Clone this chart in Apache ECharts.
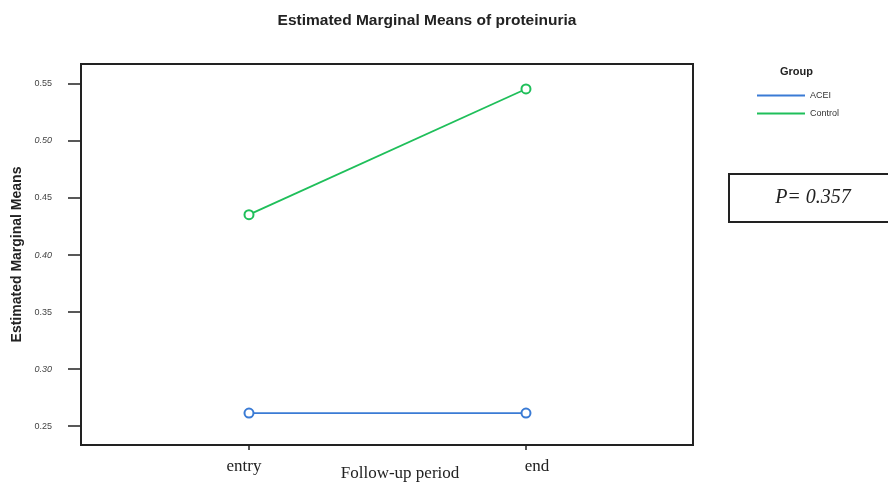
<!DOCTYPE html>
<html>
<head>
<meta charset="utf-8">
<script src="https://cdn.jsdelivr.net/npm/echarts@6/dist/echarts.min.js"></script>
<style>
  html, body { margin: 0; padding: 0; background: #fff; }
  #chart { width: 888px; height: 488px; }
</style>
</head>
<body>
<div id="chart"></div>
<script>
// Follow-up time points and estimated marginal means per group
const periods = ['entry', 'end'];
const aceiMeans = [0.2614, 0.2614];
const controlMeans = [0.4354, 0.5456];
const yTicks = [0.25, 0.30, 0.35, 0.40, 0.45, 0.50, 0.55];
const pText = 'P= 0.357';

const toPairs = vals => vals.map((v, i) => [i, v]);

const chart = echarts.init(document.getElementById('chart'));
chart.setOption({
  backgroundColor: '#ffffff',
  animation: false,
  title: {
    text: 'Estimated Marginal Means of proteinuria',
    left: 422, top: 8, textAlign: 'center',
    textStyle: { fontFamily: 'Arial, Liberation Sans, sans-serif', fontSize: 15.5, fontWeight: 'bold', color: '#222' }
  },
  grid: {
    left: 81, top: 64, right: 195, bottom: 43,
    outerBoundsMode: 'none', containLabel: false,
    show: true, borderColor: '#222', borderWidth: 2, backgroundColor: 'transparent'
  },
  legend: {
    orient: 'vertical', left: 752, top: 86,
    itemWidth: 48, itemHeight: 2, itemGap: 9,
    icon: 'rect',
    textStyle: { fontFamily: 'Arial, Liberation Sans, sans-serif', fontSize: 9, color: '#333' },
    data: ['ACEI', 'Control']
  },
  xAxis: {
    type: 'value',
    min: -0.6065, max: 1.603,
    name: 'Follow-up period',
    nameLocation: 'middle', nameGap: 20, nameMoveOverlap: false,
    nameTextStyle: { fontFamily: 'Liberation Serif, Times New Roman, serif', fontSize: 17, color: '#222', padding: [0, 0, 0, 26] },
    axisLine: { show: true, onZero: false, lineStyle: { color: '#222', width: 2 } },
    axisTick: { show: true, customValues: [0, 1], length: 5, lineStyle: { color: '#222', width: 1.5 } },
    axisLabel: {
      customValues: [0, 1], margin: 13,
      fontFamily: 'Liberation Serif, Times New Roman, serif', fontSize: 17, color: '#222',
      formatter: v => (v === 0 ? '{a|' + periods[0] + '}' : '{b|' + periods[1] + '}'),
      rich: {
        a: { fontFamily: 'Liberation Serif, Times New Roman, serif', fontSize: 17, color: '#222', padding: [0, 10, 0, 0] },
        b: { fontFamily: 'Liberation Serif, Times New Roman, serif', fontSize: 17, color: '#222', padding: [0, 0, 0, 22] }
      }
    },
    splitLine: { show: false }
  },
  yAxis: {
    type: 'value',
    min: 0.2334, max: 0.5675,
    name: 'Estimated Marginal Means',
    nameLocation: 'middle', nameGap: 57, nameMoveOverlap: false,
    nameTextStyle: { fontFamily: 'Arial, Liberation Sans, sans-serif', fontSize: 14, fontWeight: 'bold', color: '#222' },
    axisLine: { show: true, onZero: false, lineStyle: { color: '#222', width: 2 } },
    axisTick: { show: true, customValues: yTicks, length: 13, inside: false, lineStyle: { color: '#222', width: 1.5 } },
    axisLabel: {
      customValues: yTicks, margin: 29,
      formatter: v => {
        const s = v.toFixed(2);
        return Math.round(v * 100) % 10 === 0 ? '{i|' + s + '}' : '{n|' + s + '}';
      },
      rich: {
        n: { fontFamily: 'Arial, Liberation Sans, sans-serif', fontSize: 9, color: '#444' },
        i: { fontFamily: 'Arial, Liberation Sans, sans-serif', fontSize: 9, fontStyle: 'italic', color: '#444' }
      }
    },
    splitLine: { show: false }
  },
  series: [
    {
      name: 'ACEI', type: 'line', data: toPairs(aceiMeans),
      symbol: 'emptyCircle', symbolSize: 9,
      lineStyle: { color: '#3a7bd5', width: 1.8 },
      itemStyle: { color: '#3a7bd5', borderWidth: 1.6 },
      z: 3
    },
    {
      name: 'Control', type: 'line', data: toPairs(controlMeans),
      symbol: 'emptyCircle', symbolSize: 9,
      lineStyle: { color: '#1fbf5a', width: 1.8 },
      itemStyle: { color: '#1fbf5a', borderWidth: 1.6 },
      z: 3
    }
  ],
  graphic: [
    {
      type: 'text', left: 780, top: 66,
      style: { text: 'Group', fontFamily: 'Arial, Liberation Sans, sans-serif', fontSize: 11, fontWeight: 'bold', fill: '#222' }
    },
    {
      type: 'rect', shape: { x: 729, y: 174, width: 170, height: 48 },
      style: { fill: '#fff', stroke: '#222', lineWidth: 2 }
    },
    {
      type: 'text', x: 813, y: 198,
      style: {
        text: pText, fontFamily: 'Liberation Serif, Times New Roman, serif', fontSize: 20,
        fontStyle: 'italic', fill: '#222', align: 'center', verticalAlign: 'middle'
      }
    }
  ]
});
</script>
</body>
</html>
